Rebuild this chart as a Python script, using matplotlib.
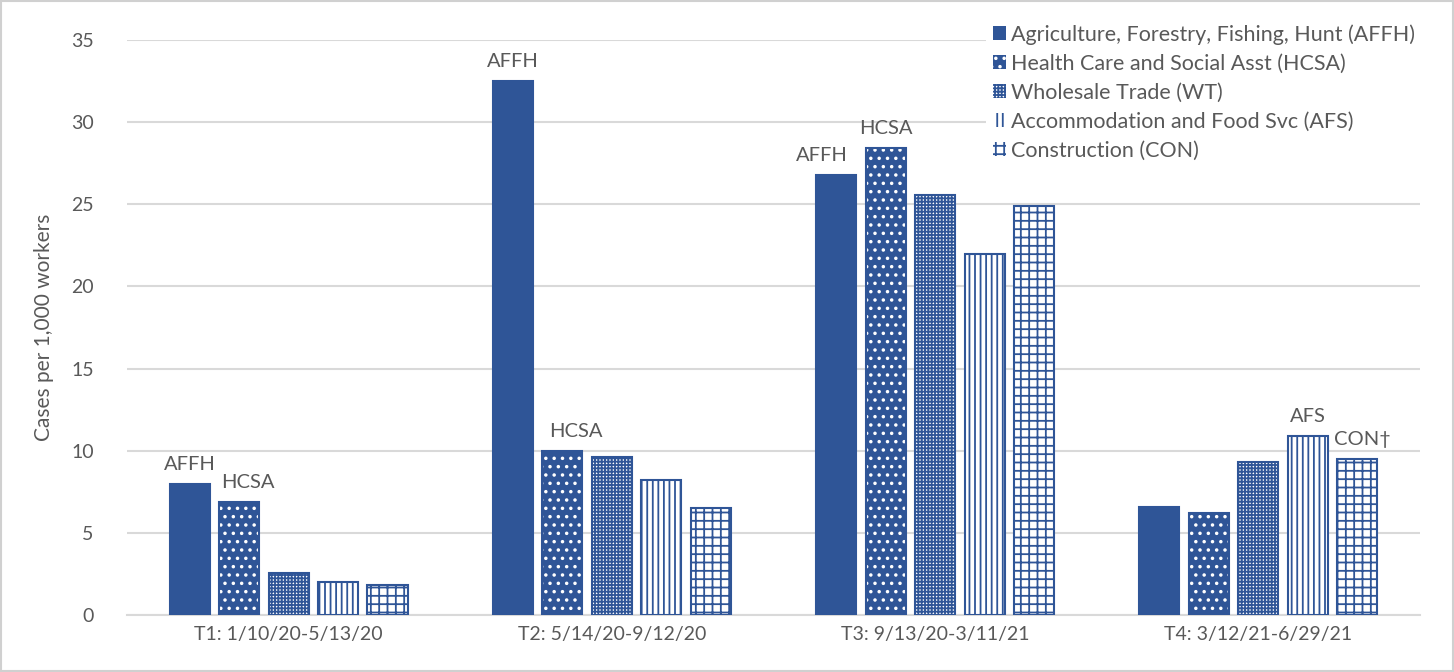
#!/usr/bin/env python3
"""Grouped bar chart: COVID-19 cases per 1,000 workers by industry and period."""

import matplotlib

matplotlib.use("Agg")
import matplotlib.pyplot as plt
import numpy as np
from matplotlib.patches import Rectangle

periods = ["T1: 1/10/20-5/13/20", "T2: 5/14/20-9/12/20",
           "T3: 9/13/20-3/11/21", "T4: 3/12/21-6/29/21"]
industries = [
    "Agriculture, Forestry, Fishing, Hunt (AFFH)",
    "Health Care and Social Asst (HCSA)",
    "Wholesale Trade (WT)",
    "Accommodation and Food Svc (AFS)",
    "Construction (CON)",
]
affh = [7.95, 32.5, 26.8, 6.55]
hcsa = [6.9, 10.0, 28.4, 6.2]
wt = [2.55, 9.6, 25.55, 9.3]
afs = [2.0, 8.2, 22.0, 10.9]
con = [1.85, 6.5, 24.9, 9.5]
series = [affh, hcsa, wt, afs, con]

# (period index, series index, text, x nudge in points)
callouts = [(0, 0, "AFFH", 0), (0, 1, "HCSA", 6), (1, 0, "AFFH", 0), (1, 1, "HCSA", 10),
            (2, 0, "AFFH", -10), (2, 1, "HCSA", 0), (3, 3, "AFS", 0), (3, 4, "CON\u2020", 4)]

BLUE = "#2F5597"
GREY = "#595959"

plt.rcParams.update({
    "font.family": ["Lato", "DejaVu Sans"],
    "hatch.linewidth": 1.3,
})

# face, hatch colour, hatch pattern
styles = [
    (BLUE, BLUE, None),
    (BLUE, "white", ".."),
    ("white", BLUE, "+++++"),
    ("white", BLUE, "|||"),
    ("white", BLUE, "++"),
]

fig = plt.figure(figsize=(14.54, 6.72), dpi=100)
ax = fig.add_axes([0.0873, 0.0848, 0.8893, 0.8557])

x = np.arange(len(periods))
step = 0.153
width = 0.124
offsets = (np.arange(len(series)) - 2) * step

handles = []
for i, (vals, (face, hcol, hatch)) in enumerate(zip(series, styles)):
    pos = x + offsets[i]
    b = ax.bar(pos, vals, width, color=face, edgecolor=hcol, hatch=hatch,
               linewidth=0, zorder=3)
    ax.bar(pos, vals, width, fill=False, edgecolor=BLUE, linewidth=1.5, zorder=4)
    handles.append(b)

for p, s, txt, dx in callouts:
    ax.annotate(txt, (x[p] + offsets[s], series[s][p]), xytext=(dx, 8),
                textcoords="offset points", ha="center", va="bottom",
                fontsize=14.5, color=GREY)

ax.set_xlim(-0.5, len(periods) - 0.5)
ax.set_ylim(0, 35)
ax.set_yticks(range(0, 36, 5))
ax.set_xticks(x)
ax.set_xticklabels(periods)
ax.tick_params(axis="both", length=0, labelsize=14, colors=GREY)
ax.tick_params(axis="y", pad=24)
ax.tick_params(axis="x", pad=8)
ax.grid(axis="y", color="#d9d9d9", linewidth=1.5, zorder=0)
ax.set_axisbelow(True)
for sp in ("top", "right", "left"):
    ax.spines[sp].set_visible(False)
ax.spines["bottom"].set_color("#d9d9d9")
ax.spines["bottom"].set_linewidth(1.5)
ax.set_ylabel("Cases per 1,000 workers", fontsize=15, color=GREY, labelpad=12)

leg = ax.legend(handles, industries, loc="upper right",
                bbox_to_anchor=(0.985, 0.99), bbox_transform=fig.transFigure,
                fontsize=15.5, handlelength=0.6, handleheight=0.6,
                handletextpad=0.25, labelspacing=0.42, borderpad=0.3,
                frameon=True, fancybox=False, edgecolor="none",
                facecolor="white", framealpha=1.0, labelcolor=GREY)
leg.set_zorder(10)

fig.patches.append(Rectangle((0.001, 0.001), 0.998, 0.997, transform=fig.transFigure,
                             fill=False, edgecolor="#d0d0d0", linewidth=1.5))

fig.savefig("out.png", dpi=100)
